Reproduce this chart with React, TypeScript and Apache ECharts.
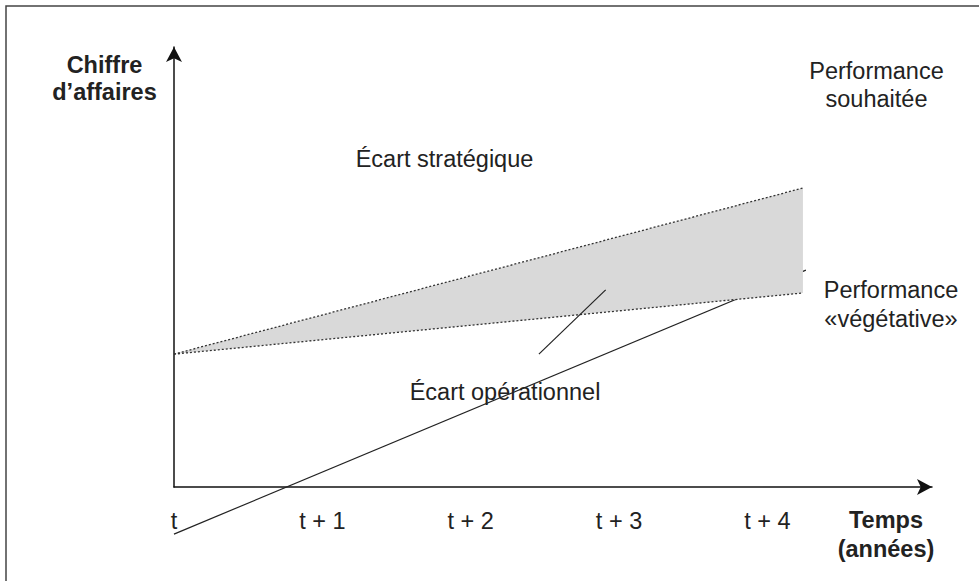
import React, { useEffect, useRef } from "react";
import * as echarts from "echarts";

// Tick labels of the time axis
const tickLabels = ["t", "t + 1", "t + 2", "t + 3", "t + 4"];

// Shaded fan between the two performance lines
const fanX = [0, 4.24];
const vegetative = [30.2, 44.1];
const souhaitee = [30.2, 67.95];

// Operational (solid) line
const operationalX = [0, 4.26];
const operationalY = [-10.7, 49.3];

// Small pointer line for "Écart opérationnel"
const pointerX = [2.46, 2.91];
const pointerY = [30.2, 44.8];

const FONT = "'Liberation Sans', Arial, Helvetica, sans-serif";
const TXT = "#222";
const FS = 23.5;

export default function App() {
  const ref = useRef<HTMLDivElement>(null);

  useEffect(() => {
    if (!ref.current) return;
    const chart = echarts.init(ref.current, null, { renderer: "svg" });

    const lowerData = fanX.map((x, i) => [x, vegetative[i]]);
    const upperData = fanX.map((x, i) => [x, souhaitee[i]]);
    const fanData = fanX.map((x, i) => [x, vegetative[i], souhaitee[i]]);
    const opData = operationalX.map((x, i) => [x, operationalY[i]]);
    const ptrData = pointerX.map((x, i) => [x, pointerY[i]]);

    const txt = (text: string, x: number, y: number, bold = false) => ({
      type: "text",
      x,
      y,
      z: 10,
      style: {
        text,
        fill: TXT,
        font: `${bold ? "bold " : ""}${FS}px ${FONT}`,
        textAlign: "center",
        textVerticalAlign: "middle",
      },
    });

    const axisLine = {
      show: true,
      onZero: true,
      symbol: ["none", "arrow"],
      symbolSize: [12, 15],
      lineStyle: { color: "#111", width: 1.5 },
    };

    chart.setOption({
      animation: false,
      backgroundColor: "#fff",
      grid: { left: 174, right: 47, top: 47, bottom: 94 },
      xAxis: {
        type: "value",
        min: 0,
        max: 5.11,
        interval: 1,
        axisLine,
        axisTick: { show: false },
        splitLine: { show: false },
        axisLabel: {
          show: true,
          margin: 22,
          fontSize: FS,
          fontFamily: FONT,
          color: TXT,
          showMaxLabel: false,
          formatter: (v: number) => tickLabels[Math.round(v)] ?? "",
        },
      },
      yAxis: {
        type: "value",
        min: 0,
        max: 100,
        axisLine,
        axisTick: { show: false },
        splitLine: { show: false },
        axisLabel: { show: false },
      },
      series: [
        {
          type: "line",
          data: opData,
          symbol: "none",
          clip: false,
          z: 1,
          lineStyle: { color: "#222", width: 1.2 },
        },
        {
          type: "custom",
          data: fanData,
          z: 2,
          clip: false,
          renderItem: (params: any, api: any) => {
            if (params.dataIndex !== 0) return null;
            const lower = fanData.map((d) => api.coord([d[0], d[1]]));
            const upper = fanData.map((d) => api.coord([d[0], d[2]]));
            return {
              type: "polygon",
              shape: { points: [...lower, ...upper.reverse()] },
              style: { fill: "#d9d9d9", stroke: "none" },
            };
          },
        },
        {
          type: "line",
          data: lowerData,
          symbol: "none",
          clip: false,
          z: 3,
          lineStyle: { color: "#333", width: 1.3, type: [2, 2] },
        },
        {
          type: "line",
          data: upperData,
          symbol: "none",
          clip: false,
          z: 3,
          lineStyle: { color: "#333", width: 1.3, type: [2, 2] },
        },
        {
          type: "line",
          data: ptrData,
          symbol: "none",
          clip: false,
          z: 4,
          lineStyle: { color: "#222", width: 1.2 },
        },
      ],
      graphic: [
        {
          type: "rect",
          z: 0,
          shape: { x: 6, y: 6, width: 1200, height: 1200 },
          style: { fill: "none", stroke: "#444", lineWidth: 1.5 },
        },
        txt("Chiffre", 104.5, 65, true),
        txt("d\u2019affaires", 104.5, 92, true),
        txt("Performance", 876.5, 71),
        txt("souhaitée", 876.5, 99),
        txt("Écart stratégique", 444.5, 159),
        txt("Performance", 891, 290),
        txt("«végétative»", 891, 319),
        txt("Écart opérationnel", 505, 392),
        txt("Temps", 886, 520, true),
        txt("(années)", 886, 549, true),
      ],
    });

    return () => chart.dispose();
  }, []);

  return (
    <div
      ref={ref}
      style={{ position: "fixed", left: 0, top: 0, width: 979, height: 581 }}
    />
  );
}
